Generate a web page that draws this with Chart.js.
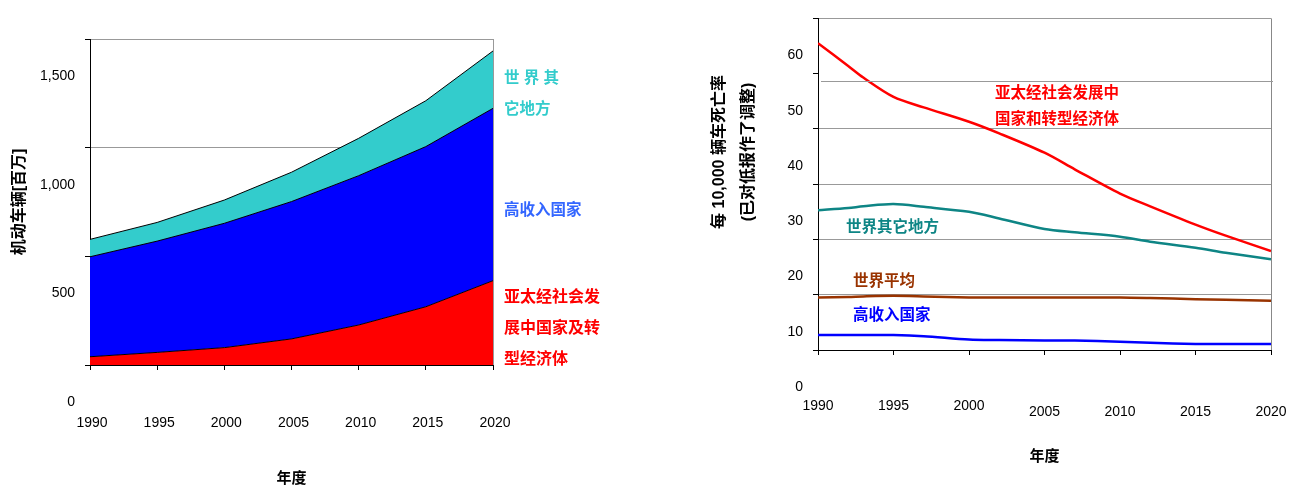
<!DOCTYPE html>
<html>
<head>
<meta charset="utf-8">
<script src="https://cdn.jsdelivr.net/npm/chart.js@4.4.1/dist/chart.umd.min.js"></script>
<style>
  html, body { margin: 0; padding: 0; background: #fff; }
  #wrap { position: relative; width: 1290px; height: 486px; }
  canvas { position: absolute; top: 0; }
  #vehicles { left: 0; }
  #deaths { left: 645px; }
</style>
</head>
<body>
<div id="wrap">
  <canvas id="vehicles" width="645" height="486"></canvas>
  <canvas id="deaths" width="645" height="486"></canvas>
</div>
<script>
// Left chart: motor vehicles (millions), stacked
const vehicleYears = ['1990', '1995', '2000', '2005', '2010', '2015', '2020'];
const apacVehicles = [38, 58, 80, 120, 184, 268, 388];
const highIncomeVehicles = [460, 512, 572, 632, 687, 737, 793];
const restVehicles = [80, 86, 107, 135, 172, 211, 264];
const vehicleTicks = ['0', '500', '1,000', '1,500'];

// Right chart: deaths per 10,000 vehicles
const rateYears = [1990, 1992, 1993, 1995, 1997, 2000, 2002, 2005, 2007, 2010, 2012, 2015, 2017, 2020];
const apacRate = [55.5, 51.4, 49.3, 45.8, 43.9, 41.3, 39.2, 35.7, 32.7, 28.3, 26.0, 22.7, 20.7, 17.9];
const restRate = [25.3, 25.7, 26.0, 26.4, 25.9, 25.0, 23.8, 21.9, 21.3, 20.5, 19.6, 18.5, 17.6, 16.4];
const worldRate = [9.5, 9.6, 9.7, 9.8, 9.7, 9.5, 9.5, 9.5, 9.5, 9.5, 9.4, 9.2, 9.1, 8.9];
const highIncomeRate = [2.7, 2.7, 2.7, 2.7, 2.5, 1.9, 1.8, 1.7, 1.7, 1.5, 1.3, 1.1, 1.1, 1.1];
const rateTicks = ['0', '10', '20', '30', '40', '50', '60'];
const rateYearTicks = ['1990', '1995', '2000', '2005', '2010', '2015', '2020'];

Chart.defaults.font.family = "'Liberation Sans', Arial, sans-serif";
Chart.defaults.font.size = 14;
Chart.defaults.color = '#000';
const cjk = "'Liberation Sans', 'Noto Sans CJK SC', sans-serif";
const noteFont = "bold 15.5px " + cjk;

// free text next to the series, plus the odd stray gridline
const notes = {
  id: 'notes',
  afterDraw(chart, args, opts) {
    const ctx = chart.ctx;
    const area = chart.chartArea;
    ctx.save();
    (opts.rules || []).forEach(r => {
      const y = Math.round(chart.scales.y.getPixelForValue(r.value)) + 0.5;
      ctx.strokeStyle = r.color;
      ctx.lineWidth = 1;
      ctx.beginPath();
      ctx.moveTo(area.left + 3, y);
      ctx.lineTo(area.right + 2, y);
      ctx.stroke();
    });
    ctx.textBaseline = 'middle';
    (opts.items || []).forEach(it => {
      ctx.save();
      ctx.font = it.font || noteFont;
      ctx.fillStyle = it.color;
      ctx.textAlign = it.align || 'left';
      ctx.translate(it.x, it.y);
      if (it.rotate) ctx.rotate(it.rotate);
      ctx.fillText(it.text, 0, 0);
      ctx.restore();
    });
    ctx.restore();
  }
};

new Chart(document.getElementById('vehicles'), {
  type: 'line',
  data: {
    labels: vehicleYears,
    datasets: [
      { data: apacVehicles, backgroundColor: '#ff0000', fill: 'origin' },
      { data: highIncomeVehicles, backgroundColor: '#0000ff', fill: '-1' },
      { data: restVehicles, backgroundColor: '#33cccc', fill: '-1' }
    ].map(d => Object.assign({ borderColor: '#000', borderWidth: 1, pointRadius: 0, tension: 0 }, d))
  },
  options: {
    responsive: false,
    animation: false,
    layout: { padding: { left: 0, top: 39, right: 152, bottom: 0 } },
    plugins: {
      legend: { display: false },
      tooltip: { enabled: false },
      notes: {
        items: [
          { text: '世 界 其', x: 504, y: 79, color: '#33cccc' },
          { text: '它地方', x: 504, y: 110, color: '#33cccc' },
          { text: '高收入国家', x: 504, y: 211, color: '#3366ff' },
          { text: '亚太经社会发', x: 504, y: 298, color: '#ff0000', font: 'bold 16px ' + cjk },
          { text: '展中国家及转', x: 504, y: 329, color: '#ff0000', font: 'bold 16px ' + cjk },
          { text: '型经济体', x: 504, y: 360, color: '#ff0000', font: 'bold 16px ' + cjk }
        ]
      }
    },
    scales: {
      x: {
        grid: { color: c => c.index === 6 ? '#999' : 'transparent', tickColor: '#000', tickLength: 5 },
        border: { color: '#000' },
        ticks: { padding: 45, labelOffset: 2, maxRotation: 0 },
        title: { display: true, text: '年度', font: { family: cjk, size: 15, weight: 'bold', lineHeight: 1 }, padding: 0 },
        afterFit: s => { s.height = 121; s.paddingLeft = 0; s.paddingRight = 0; }
      },
      y: {
        stacked: true,
        min: 0,
        max: 1500,
        ticks: { stepSize: 500, padding: 10, labelOffset: 37, callback: (v, i) => vehicleTicks[i] },
        grid: { color: '#999', tickColor: '#000', tickLength: 5 },
        border: { color: '#000' },
        title: { display: true, text: '机动车辆[百万]', font: { family: cjk, size: 16, weight: 'bold' }, padding: { top: 10, bottom: 0 } },
        afterFit: s => { s.width = 90; }
      }
    }
  },
  plugins: [notes]
});

const ratePoints = vals => rateYears.map((yr, i) => ({ x: yr, y: vals[i] }));

new Chart(document.getElementById('deaths'), {
  type: 'line',
  data: {
    datasets: [
      { data: ratePoints(apacRate), borderColor: '#ff0000' },
      { data: ratePoints(restRate), borderColor: '#0e8585' },
      { data: ratePoints(worldRate), borderColor: '#993300' },
      { data: ratePoints(highIncomeRate), borderColor: '#0000ff' }
    ].map(d => Object.assign({ borderWidth: 2.5, pointRadius: 0, tension: 0.3, fill: false }, d))
  },
  options: {
    responsive: false,
    animation: false,
    layout: { padding: { left: 0, top: 14, right: 19, bottom: 0 } },
    plugins: {
      legend: { display: false },
      tooltip: { enabled: false },
      notes: {
        rules: [{ value: 48.6, color: '#999' }],
        items: [
          { text: '亚太经社会发展中', x: 350, y: 94, color: '#ff0000' },
          { text: '国家和转型经济体', x: 350, y: 120, color: '#ff0000' },
          { text: '世界其它地方', x: 201, y: 228, color: '#0e8585' },
          { text: '世界平均', x: 208, y: 282, color: '#993300' },
          { text: '高收入国家', x: 208, y: 316, color: '#0000ff' },
          { text: '每 10,000 辆车死亡率', x: 75, y: 152, color: '#000', align: 'center', rotate: -Math.PI / 2, font: 'bold 16px ' + cjk },
          { text: '(已对低报作了调整)', x: 104, y: 152, color: '#000', align: 'center', rotate: -Math.PI / 2, font: 'bold 16px ' + cjk }
        ]
      }
    },
    scales: {
      x: {
        type: 'linear',
        min: 1990,
        max: 2020,
        ticks: {
          stepSize: 5,
          padding: 43,
          maxRotation: 0,
          callback: (v, i) => rateYearTicks[i],
          font: c => ({ size: 14, lineHeight: c.index >= 3 ? 2.05 : 1.2 })
        },
        grid: { color: c => c.index === 6 ? '#888' : 'transparent', tickColor: '#000', tickLength: 5 },
        border: { color: '#000' },
        title: { display: true, text: '年度', font: { family: cjk, size: 15, weight: 'bold' }, padding: { top: 0, bottom: 20 } },
        afterFit: s => { s.height = 136; s.paddingLeft = 0; s.paddingRight = 0; }
      },
      y: {
        min: 0,
        max: 60,
        ticks: { stepSize: 10, padding: 10, labelOffset: 37, callback: (v, i) => rateTicks[i] },
        grid: { color: c => c.tick.value === 50 ? 'transparent' : '#999', tickColor: '#000', tickLength: 5 },
        border: { color: '#000' },
        afterFit: s => { s.width = 173; }
      }
    }
  },
  plugins: [notes]
});
</script>
</body>
</html>
